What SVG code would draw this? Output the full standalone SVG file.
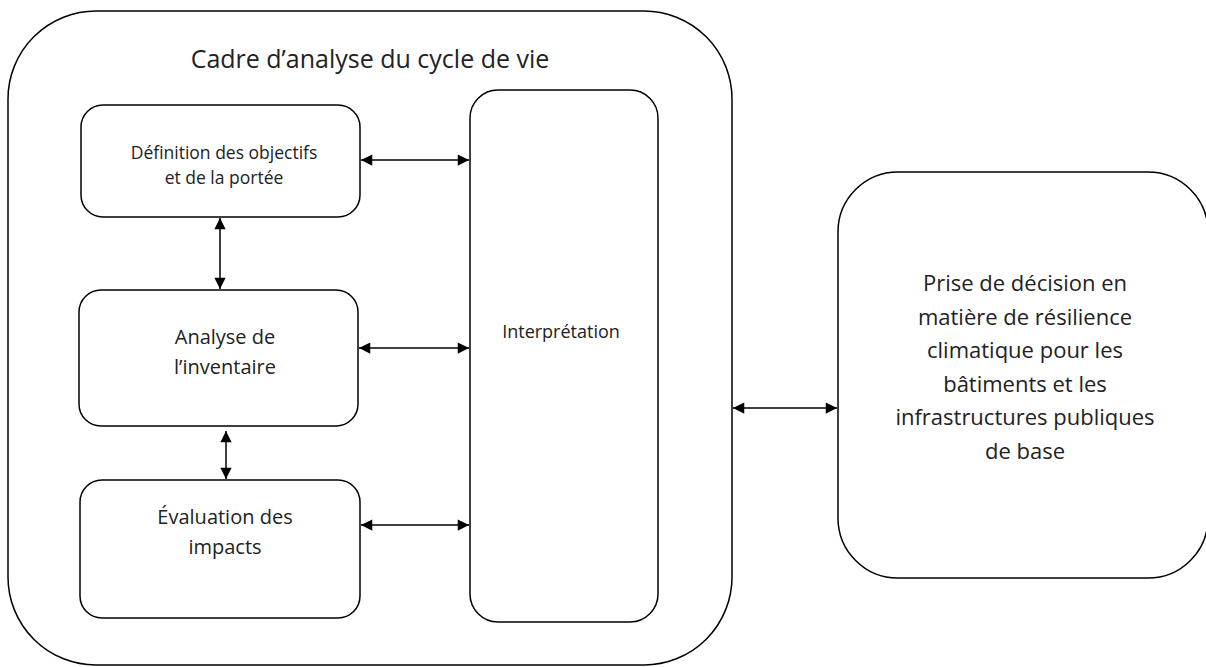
<svg xmlns="http://www.w3.org/2000/svg" width="1206" height="667" viewBox="0 0 1206 667">
<style>
.box{fill:#fff;stroke:#000;stroke-width:1.5}
.t{font-family:"Open Sans","Liberation Sans",sans-serif;fill:#222;text-anchor:middle}
.d{font-family:"Open Sans","Liberation Sans",sans-serif;fill:#222;text-anchor:middle;font-size:22px}
.c{stroke:#000;stroke-width:1.5;fill:none;marker-start:url(#ah);marker-end:url(#ah)}
</style>
<defs>
<marker id="ah" viewBox="0 0 10 10" refX="10" refY="5" markerWidth="8" markerHeight="7.5" orient="auto-start-reverse" markerUnits="strokeWidth">
<path d="M0,0 L10,5 L0,10 z" fill="#000"/>
</marker>
</defs>
<rect width="1206" height="667" fill="#fff"/>
<g id="frame">
<rect class="box" x="8" y="11" width="724" height="654" rx="88" ry="88"/>
<text class="t" x="370" y="68" font-size="25">Cadre d’analyse du cycle de vie</text>
</g>
<g id="definition">
<rect class="box" x="81" y="105" width="279" height="112" rx="22" ry="22"/>
<text class="t" x="224" y="159" font-size="17.5">Définition des objectifs</text>
<text class="t" x="224" y="184" font-size="17.5">et de la portée</text>
</g>
<g id="inventaire">
<rect class="box" x="79" y="290" width="279" height="136" rx="22" ry="22"/>
<text class="t" x="225" y="344" font-size="20">Analyse de</text>
<text class="t" x="225" y="374" font-size="20">l’inventaire</text>
</g>
<g id="impacts">
<rect class="box" x="80" y="480" width="280" height="138" rx="22" ry="22"/>
<text class="t" x="225" y="524" font-size="20">Évaluation des</text>
<text class="t" x="225" y="554" font-size="20">impacts</text>
</g>
<g id="interpretation">
<rect class="box" x="470" y="90" width="188" height="532" rx="28" ry="28"/>
<text class="t" x="561" y="338" font-size="18">Interprétation</text>
</g>
<g id="decision">
<rect class="box" x="838" y="172" width="370" height="406" rx="60" ry="60"/>
<text class="d" x="1025" y="291">Prise de décision en</text>
<text class="d" x="1025" y="324.5">matière de résilience</text>
<text class="d" x="1025" y="358">climatique pour les</text>
<text class="d" x="1025" y="391.5">bâtiments et les</text>
<text class="d" x="1025" y="425">infrastructures publiques</text>
<text class="d" x="1025" y="458.5">de base</text>
</g>
<g id="connectors">
<line class="c" x1="361" y1="160" x2="469" y2="160"/>
<line class="c" x1="359" y1="348" x2="469" y2="348"/>
<line class="c" x1="361" y1="525" x2="469" y2="525"/>
<line class="c" x1="220" y1="218" x2="220" y2="289"/>
<line class="c" x1="226" y1="431" x2="226" y2="479"/>
<line class="c" x1="733" y1="408" x2="837" y2="408"/>
</g>
</svg>
